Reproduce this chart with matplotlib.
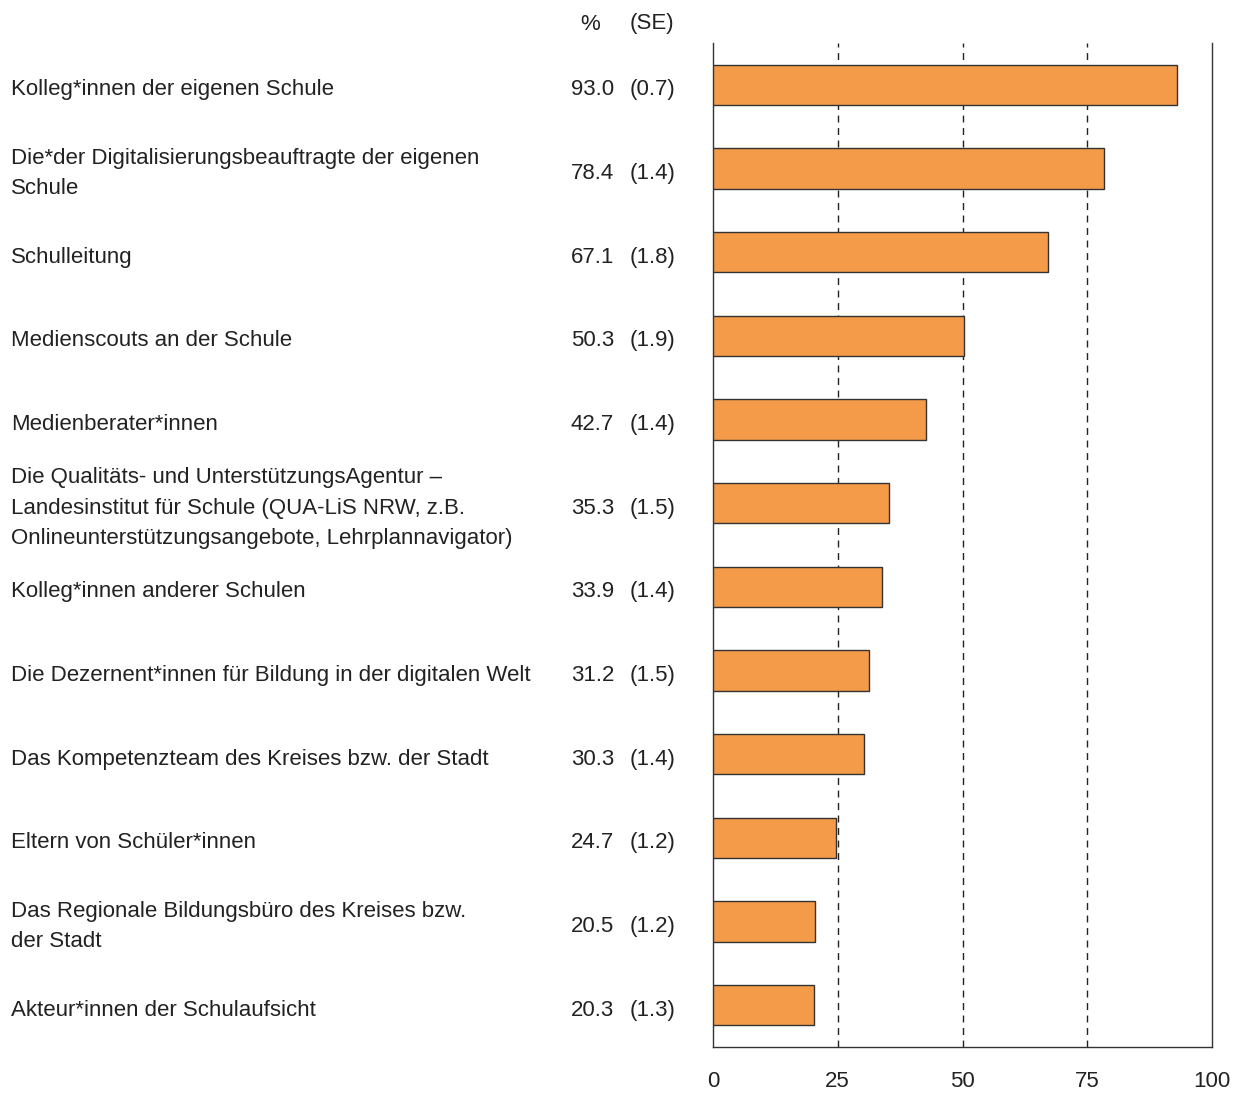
import matplotlib
matplotlib.use("Agg")
import matplotlib.pyplot as plt
from matplotlib.transforms import blended_transform_factory

plt.rcParams['font.family'] = ['Liberation Sans', 'DejaVu Sans']

labels = [
    "Kolleg*innen der eigenen Schule",
    "Die*der Digitalisierungsbeauftragte der eigenen\nSchule",
    "Schulleitung",
    "Medienscouts an der Schule",
    "Medienberater*innen",
    "Die Qualitäts- und UnterstützungsAgentur –\nLandesinstitut für Schule (QUA-LiS NRW, z.B.\nOnlineunterstützungsangebote, Lehrplannavigator)",
    "Kolleg*innen anderer Schulen",
    "Die Dezernent*innen für Bildung in der digitalen Welt",
    "Das Kompetenzteam des Kreises bzw. der Stadt",
    "Eltern von Schüler*innen",
    "Das Regionale Bildungsbüro des Kreises bzw.\nder Stadt",
    "Akteur*innen der Schulaufsicht",
]
values = [93.0, 78.4, 67.1, 50.3, 42.7, 35.3, 33.9, 31.2, 30.3, 24.7, 20.5, 20.3]
se = [0.7, 1.4, 1.8, 1.9, 1.4, 1.5, 1.4, 1.5, 1.4, 1.2, 1.2, 1.3]
xticks = [0, 25, 50, 75, 100]

fs = 16
fig = plt.figure(figsize=(12.46, 10.93), dpi=100)
ax = fig.add_axes([713/1246, 1-1047/1093, 499/1246, 1004/1093])

y = list(range(len(labels)))
ax.barh(y, values, height=0.48, color='#F49B4A', edgecolor='#333333', linewidth=1, zorder=3)
ax.set_ylim(len(labels)-0.5, -0.5)
ax.set_xlim(0, 100)

for x in xticks[1:-1]:
    ax.axvline(x, color='#222222', linestyle=(0, (5, 4)), linewidth=1, zorder=1)

ax.spines['top'].set_visible(False)
for s in ['left', 'right', 'bottom']:
    ax.spines[s].set_color('#333333')
    ax.spines[s].set_linewidth(1)
ax.set_yticks([])
ax.set_xticks(xticks)
ax.set_xticklabels([str(t) for t in xticks], fontsize=fs, color='#222222')
ax.tick_params(axis='x', length=0, pad=17)
ax.set_xticks([0, 100], minor=True)
ax.tick_params(axis='x', which='minor', length=7, color='#333333')

tr = blended_transform_factory(fig.transFigure, ax.transData)
dy = 0.06
for i in y:
    ax.text(11/1246, i + dy, labels[i], transform=tr, ha='left', va='center',
            fontsize=fs, color='#222222', linespacing=1.6)
    ax.text(614/1246, i + dy, f"{values[i]:.1f}", transform=tr, ha='right', va='center',
            fontsize=fs, color='#222222')
    ax.text(630/1246, i + dy, f"({se[i]:.1f})", transform=tr, ha='left', va='center',
            fontsize=fs, color='#222222')

fig.text(590/1246, 1-24/1093, "%", ha='center', va='center', fontsize=fs, color='#222222')
fig.text(630/1246, 1-24/1093, "(SE)", ha='left', va='center', fontsize=fs, color='#222222')

fig.savefig("out.png", dpi=100)
